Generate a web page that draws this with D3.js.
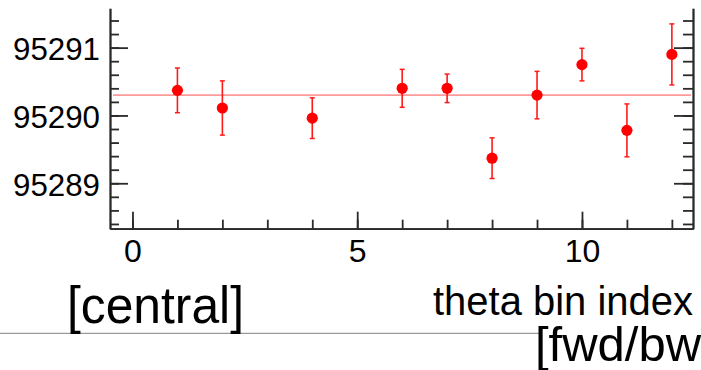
<!DOCTYPE html>
<html lang="en">
<head>
<meta charset="utf-8">
<title>theta bin fit</title>
<style>
  body { margin: 0; background: #fff; }
  svg { display: block; font-family: "Liberation Sans", Arial, Helvetica, sans-serif; }
  .axis path, .axis line { stroke: #2a2a2a; stroke-width: 1.8; }
  .axis text { fill: #000; }
</style>
<script src="https://cdn.jsdelivr.net/npm/d3@7"></script>
</head>
<body>
<script>
// data
var binIndex = [1, 2, 4, 6, 7, 8, 9, 10, 11, 12];
var values   = [95290.37, 95290.11, 95289.96, 95290.40, 95290.40, 95289.37, 95290.30, 95290.75, 95289.78, 95290.90];
var errors   = [0.33, 0.40, 0.30, 0.28, 0.21, 0.30, 0.35, 0.24, 0.39, 0.45];
var fitValue = 95290.30;
var yMajor = [95289, 95290, 95291];
var yMinor = d3.range(95288.4, 95291.5, 0.2);
var xMajor = [0, 5, 10];
var xMinor = d3.range(0, 13, 1);

var width = 701, height = 370;

var svg = d3.select("body").append("svg")
    .attr("width", width)
    .attr("height", height);

var x = d3.scaleLinear().domain([-0.5, 12.47]).range([110, 693]);
var y = d3.scaleLinear().domain([95288.33, 95291.58]).range([228.7, 8.3]);

// minor ticks first (no labels)
svg.append("g").attr("class", "axis")
    .attr("transform", "translate(110,0)")
    .call(d3.axisLeft(y).tickValues(yMinor).tickSizeInner(-9).tickSizeOuter(0).tickFormat(""));
svg.append("g").attr("class", "axis")
    .attr("transform", "translate(693,0)")
    .call(d3.axisRight(y).tickValues(yMinor).tickSizeInner(-10).tickSizeOuter(0).tickFormat(""));
svg.append("g").attr("class", "axis")
    .attr("transform", "translate(0,228.7)")
    .call(d3.axisBottom(x).tickValues(xMinor).tickSizeInner(-9).tickSizeOuter(0).tickFormat(""));

// major ticks with labels
var yl = svg.append("g").attr("class", "axis")
    .attr("transform", "translate(110,0)")
    .call(d3.axisLeft(y).tickValues(yMajor).tickSizeInner(-18).tickSizeOuter(0).tickPadding(10).tickFormat(d3.format("d")));
yl.selectAll("text").attr("font-size", 32).attr("dy", "0.37em")
    .attr("textLength", 87).attr("lengthAdjust", "spacingAndGlyphs");

svg.append("g").attr("class", "axis")
    .attr("transform", "translate(693,0)")
    .call(d3.axisRight(y).tickValues(yMajor).tickSizeInner(-19).tickSizeOuter(0).tickFormat(""));

var xl = svg.append("g").attr("class", "axis")
    .attr("transform", "translate(0,228.7)")
    .call(d3.axisBottom(x).tickValues(xMajor).tickSizeInner(-17).tickSizeOuter(0).tickPadding(11).tickFormat(d3.format("d")));
xl.selectAll("text").attr("font-size", 32);

// fit line
svg.append("line")
    .attr("x1", 113).attr("x2", 691)
    .attr("y1", y(fitValue)).attr("y2", y(fitValue))
    .attr("stroke", "#ff9a9a").attr("stroke-width", 1.6);

// error bars + markers
var pts = binIndex.map(function(b, i) { return { b: b, v: values[i], e: errors[i] }; });

var g = svg.append("g").selectAll("g").data(pts).enter().append("g");
g.append("line")
    .attr("x1", function(d) { return x(d.b); }).attr("x2", function(d) { return x(d.b); })
    .attr("y1", function(d) { return y(d.v + d.e); }).attr("y2", function(d) { return y(d.v - d.e); })
    .attr("stroke", "#ff1a1a").attr("stroke-width", 1.6);
[1, -1].forEach(function(s) {
  g.append("line")
      .attr("x1", function(d) { return x(d.b) - 2.5; }).attr("x2", function(d) { return x(d.b) + 2.5; })
      .attr("y1", function(d) { return y(d.v + s * d.e); }).attr("y2", function(d) { return y(d.v + s * d.e); })
      .attr("stroke", "#ff1a1a").attr("stroke-width", 1.5);
});
g.append("circle")
    .attr("cx", function(d) { return x(d.b); })
    .attr("cy", function(d) { return y(d.v); })
    .attr("r", 5.6)
    .attr("fill", "#ff0000");

// lower part: separator line and labels
svg.append("line")
    .attr("x1", 0).attr("x2", 540).attr("y1", 333.3).attr("y2", 333.3)
    .attr("stroke", "#9a9a9a").attr("stroke-width", 1.2);

svg.append("text")
    .attr("x", 67).attr("y", 323)
    .attr("font-size", 52)
    .attr("textLength", 177).attr("lengthAdjust", "spacingAndGlyphs")
    .text("[central]");

svg.append("text")
    .attr("x", 433).attr("y", 315)
    .attr("font-size", 41)
    .attr("textLength", 260).attr("lengthAdjust", "spacingAndGlyphs")
    .text("theta bin index");

svg.append("text")
    .attr("x", 535).attr("y", 361)
    .attr("font-size", 49)
    .text("[fwd/bwd]");
</script>
</body>
</html>
